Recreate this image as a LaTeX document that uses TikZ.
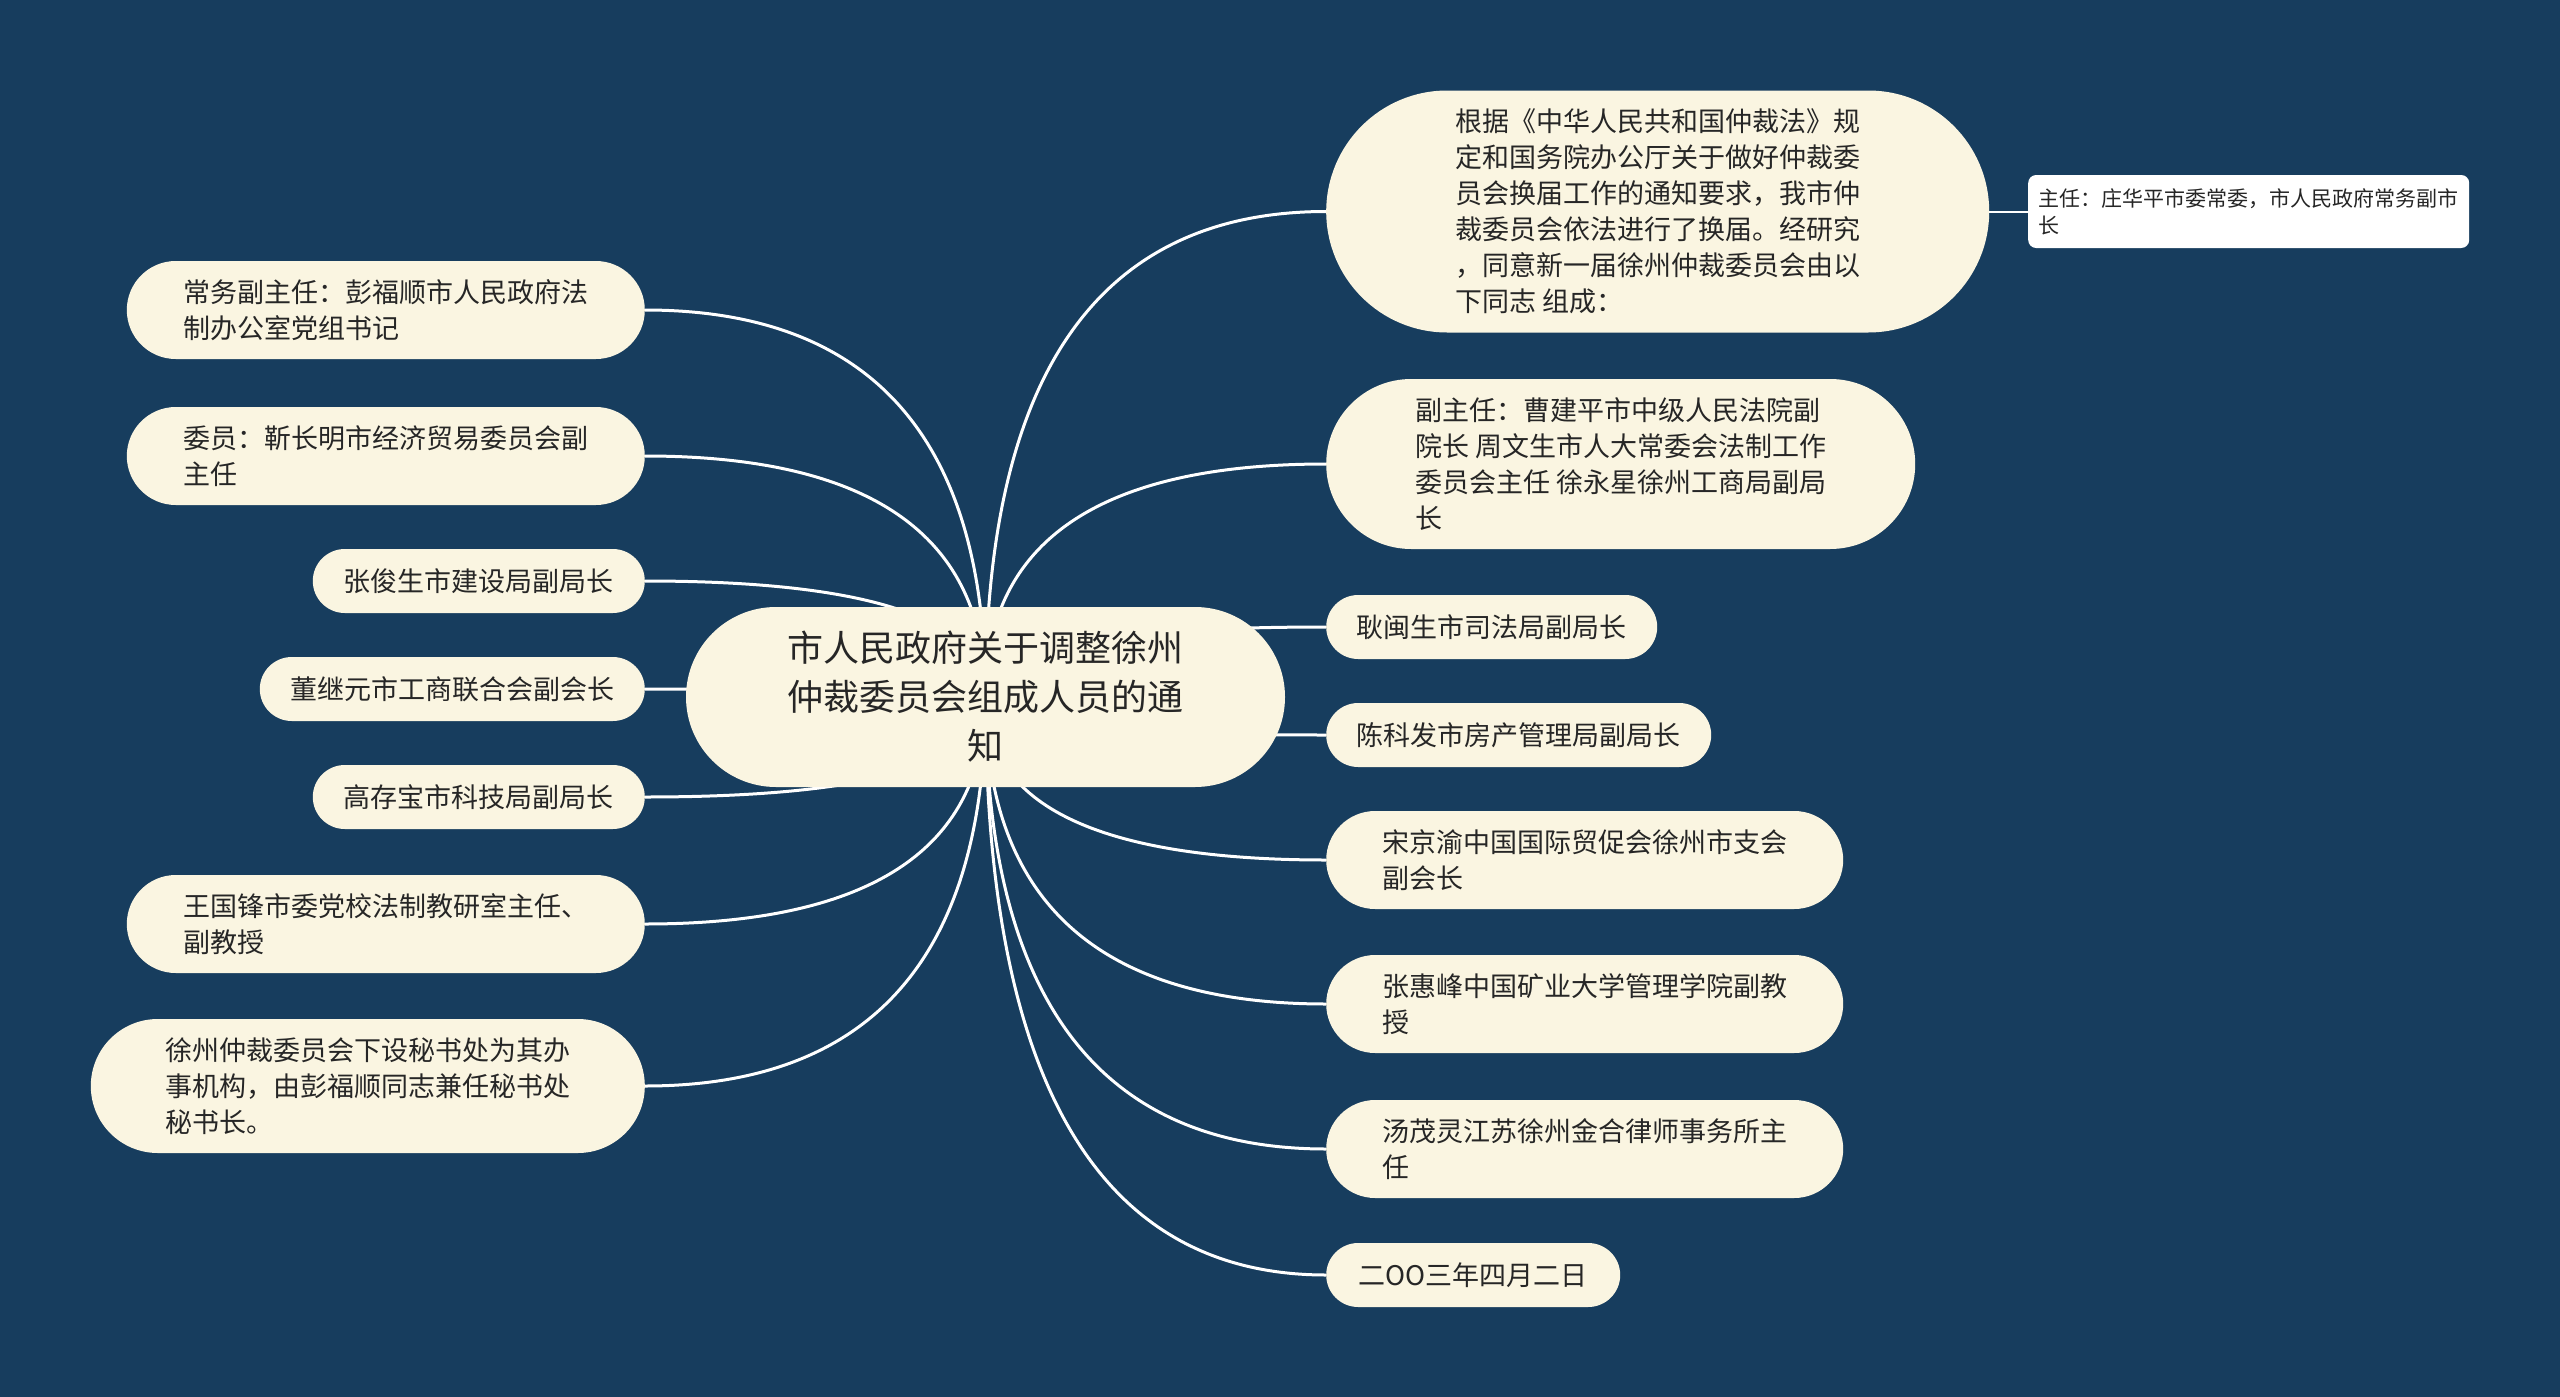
\documentclass[tikz,border=0pt]{standalone}
\usepackage{fontspec}
\setmainfont{Noto Sans CJK SC}
\usetikzlibrary{positioning,calc,backgrounds}

\definecolor{bgblue}{HTML}{173D5E}
\definecolor{leaffill}{HTML}{FAF5E1}
\definecolor{inkgray}{HTML}{262626}

\begin{document}
\begin{tikzpicture}[
  x=1pt, y=-1pt,
  every node/.style={align=left},
  %% ─── 樣式定義 ─────────────────────────────────
  hubnode/.style={
    fill=leaffill, text=inkgray, rounded corners=90pt, inner sep=0pt,
    minimum width=599pt, minimum height=180pt, align=center,
    font=\fontsize{36pt}{49pt}\selectfont},
  leaf/.style={
    fill=leaffill, text=inkgray, inner sep=0pt,
    font=\fontsize{27pt}{36pt}\selectfont},
  pill/.style={leaf, rounded corners=#1pt, minimum height={2*#1pt}},
  notebox/.style={
    fill=white, text=inkgray, rounded corners=8pt, inner sep=0pt,
    minimum width=441pt, minimum height=73pt,
    font=\fontsize{21pt}{27pt}\selectfont},
  %% ─── 連線樣式 ──────────────────────────────────
  link/.style={draw=white, line width=3pt},
  thinlink/.style={draw=white, line width=2pt}
]
  \useasboundingbox (0,0) rectangle (2560,1397);

  %% ════════════════════════════════════════════════
  %%  中心主題
  %% ════════════════════════════════════════════════
  \node[hubnode] (hub) at (985.5,697) {市人民政府关于调整徐州\\仲裁委员会组成人员的通\\知};

  %% ── 左側分支 ─────────────────────────────────────
  \node[pill=49, minimum width=518pt, anchor=east] (l1) at (645,310) {常务副主任：彭福顺市人民政府法\\制办公室党组书记};
  \node[pill=49, minimum width=518pt, anchor=east] (l2) at (645,456) {委员：靳长明市经济贸易委员会副\\主任};
  \node[pill=32, minimum width=332pt, anchor=east] (l3) at (645,581) {张俊生市建设局副局长};
  \node[pill=32, minimum width=385pt, anchor=east] (l4) at (645,689) {董继元市工商联合会副会长};
  \node[pill=32, minimum width=332pt, anchor=east] (l5) at (645,797) {高存宝市科技局副局长};
  \node[pill=49, minimum width=518pt, anchor=east] (l6) at (645,924) {王国锋市委党校法制教研室主任、\\副教授};
  \node[pill=67, minimum width=554pt, anchor=east] (l7) at (645,1086) {徐州仲裁委员会下设秘书处为其办\\事机构，由彭福顺同志兼任秘书处\\秘书长。};

  %% ── 右側分支 ─────────────────────────────────────
  \node[pill=121, minimum width=663pt, anchor=west] (r1) at (1326,211.5) {根据《中华人民共和国仲裁法》规\\定和国务院办公厅关于做好仲裁委\\员会换届工作的通知要求，我市仲\\裁委员会依法进行了换届。经研究\\，同意新一届徐州仲裁委员会由以\\下同志 组成：};
  \node[pill=85, minimum width=589pt, anchor=west] (r2) at (1326,464) {副主任：曹建平市中级人民法院副\\院长 周文生市人大常委会法制工作\\委员会主任 徐永星徐州工商局副局\\长};
  \node[pill=32, minimum width=331pt, anchor=west] (r3) at (1326,627) {耿闽生市司法局副局长};
  \node[pill=32, minimum width=385pt, anchor=west] (r4) at (1326,735) {陈科发市房产管理局副局长};
  \node[pill=49, minimum width=517pt, anchor=west] (r5) at (1326,860) {宋京渝中国国际贸促会徐州市支会\\副会长};
  \node[pill=49, minimum width=517pt, anchor=west] (r6) at (1326,1004) {张惠峰中国矿业大学管理学院副教\\授};
  \node[pill=49, minimum width=517pt, anchor=west] (r7) at (1326,1149) {汤茂灵江苏徐州金合律师事务所主\\任};
  \node[pill=32, minimum width=294pt, anchor=west] (r8) at (1326,1275) {二OO三年四月二日};

  %% ── 子節點 ───────────────────────────────────────
  \node[notebox, anchor=west] (chair) at (2028,211.5) {主任：庄华平市委常委，市人民政府常务副市\\长};

  %% ════════════════════════════════════════════════
  %%  背景與連線
  %% ════════════════════════════════════════════════
  \begin{scope}[on background layer]
    \fill[bgblue] (0,0) rectangle (2560,1397);
    \foreach \i in {1,...,7}
      \draw[link] (hub.center)
        .. controls ($(hub.center)!2/3!(hub.center |- l\i.east)$)
        and ($(l\i.east)!2/3!(hub.center |- l\i.east)$) .. (l\i.east);
    \foreach \i in {1,...,8}
      \draw[link] (hub.center)
        .. controls ($(hub.center)!2/3!(hub.center |- r\i.west)$)
        and ($(r\i.west)!2/3!(hub.center |- r\i.west)$) .. (r\i.west);
    \draw[thinlink] (r1.east) -- (chair.west);
  \end{scope}

\end{tikzpicture}
\end{document}
